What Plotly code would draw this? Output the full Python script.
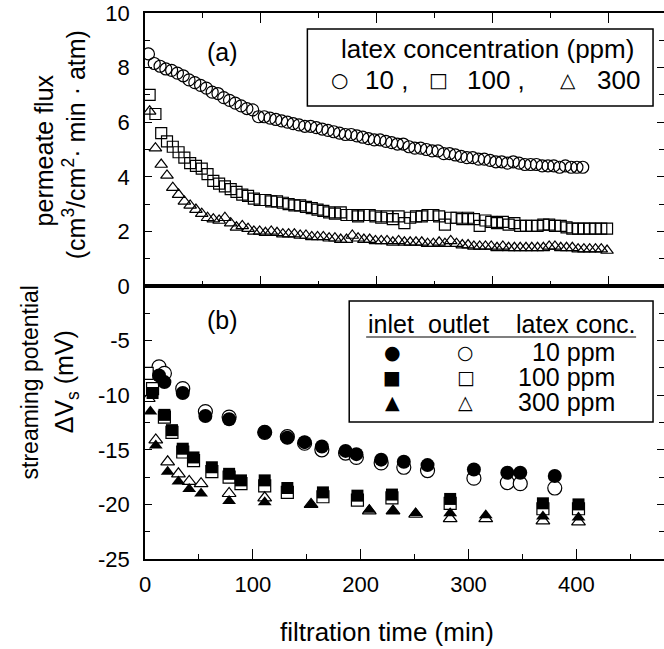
import plotly.graph_objects as go

# ---------------- data: panel (a) permeate flux ----------------
t_a_10 = [3, 8, 13, 18, 23, 28, 33, 38, 43, 48, 53, 58, 63, 68, 73, 78, 83, 88, 93, 98,
          103, 108, 113, 118, 123, 128, 133, 138, 143, 148, 153, 158, 163, 168, 173, 178,
          183, 188, 193, 198, 203, 208, 213, 218, 223, 228, 233, 238, 243, 248, 253, 258,
          263, 268, 273, 278, 283, 288, 293, 298, 303, 308, 313, 318, 323, 328, 333, 338,
          343, 348, 353, 358, 363, 368, 373, 378]
flux_10 = [8.5, 8.15, 8.05, 7.95, 7.9, 7.8, 7.7, 7.55, 7.45, 7.35, 7.25, 7.1, 7.05, 6.9, 6.8,
           6.7, 6.6, 6.5, 6.45, 6.2, 6.2, 6.15, 6.1, 6.05, 6.0, 5.95, 5.9, 5.85, 5.85, 5.8,
           5.75, 5.7, 5.65, 5.6, 5.55, 5.55, 5.5, 5.45, 5.4, 5.35, 5.35, 5.3, 5.25, 5.2, 5.2,
           5.1, 5.05, 5.05, 5.0, 4.95, 4.95, 4.85, 4.85, 4.8, 4.75, 4.7, 4.7, 4.65, 4.65, 4.6,
           4.55, 4.55, 4.5, 4.55, 4.5, 4.45, 4.45, 4.45, 4.4, 4.4, 4.4, 4.35, 4.4, 4.35, 4.35,
           4.35]

t_a_100 = [4, 9, 14, 19, 24, 29, 34, 39, 44, 49, 54, 59, 64, 69, 74, 79, 84, 89, 94, 99,
           104, 109, 114, 119, 124, 129, 134, 139, 144, 149, 154, 159, 164, 169, 174, 179,
           184, 189, 194, 199, 204, 209, 214, 219, 224, 229, 234, 239, 244, 249, 254, 259,
           264, 269, 274, 279, 284, 289, 294, 299, 304, 309, 314, 319, 324, 329, 334, 339,
           344, 349, 354, 359, 364, 369, 374, 379, 384, 389, 394, 399]
flux_100 = [7.0, 6.3, 5.6, 5.3, 5.1, 4.9, 4.7, 4.5, 4.4, 4.3, 4.1, 3.85, 3.75, 3.65, 3.55,
            3.45, 3.35, 3.3, 3.2, 3.15, 3.15, 3.1, 3.1, 3.05, 3.0, 2.95, 2.95, 2.9, 2.85, 2.8,
            2.75, 2.7, 2.65, 2.7, 2.6, 2.6, 2.55, 2.6, 2.6, 2.55, 2.5, 2.55, 2.45, 2.55, 2.3,
            2.5, 2.55, 2.55, 2.6, 2.6, 2.55, 2.25, 2.5, 2.5, 2.45, 2.5, 2.45, 2.2, 2.4, 2.35,
            2.3, 2.35, 2.25, 2.3, 2.2, 2.2, 2.2, 2.2, 2.25, 2.25, 2.2, 2.2, 2.15, 2.1, 2.1,
            2.1, 2.1, 2.1, 2.1, 2.1]

t_a_300 = t_a_100
flux_300 = [6.4, 5.05, 4.45, 4.05, 3.6, 3.35, 3.1, 2.95, 2.8, 2.65, 2.5, 2.45, 2.4, 2.5, 2.3,
            2.15, 2.2, 2.1, 2.0, 2.0, 1.95, 2.0, 1.95, 1.9, 1.9, 1.9, 1.85, 1.85, 1.8, 1.8,
            1.8, 1.75, 1.75, 1.7, 1.7, 1.85, 1.75, 1.7, 1.7, 1.65, 1.65, 1.65, 1.6, 1.65, 1.6,
            1.6, 1.6, 1.6, 1.55, 1.55, 1.6, 1.55, 1.65, 1.55, 1.5, 1.5, 1.45, 1.45, 1.45, 1.45,
            1.4, 1.45, 1.4, 1.4, 1.4, 1.4, 1.4, 1.4, 1.4, 1.45, 1.45, 1.4, 1.4, 1.4, 1.35,
            1.35, 1.35, 1.35, 1.35, 1.3]

# ---------------- data: panel (b) streaming potential ----------------
t_b_10 = [13, 18, 35, 56, 78, 111, 132, 148, 164, 186, 196, 219, 240, 262, 305, 336, 348, 380]
in_10 = [-8.2, -8.8, -9.8, -11.9, -12.2, -13.4, -13.9, -14.3, -14.7, -15.1, -15.4, -15.9,
         -16.1, -16.4, -16.8, -17.1, -17.1, -17.4]
out_10 = [-7.4, -8.0, -9.4, -11.5, -12.0, -13.4, -13.8, -14.4, -15.0, -15.3, -15.7, -16.2,
          -16.6, -16.9, -17.6, -18.0, -18.1, -18.5]

t_b_100_in = [7, 18, 25, 35, 45, 62, 78, 89, 111, 132, 165, 197, 229, 283, 369, 402]
in_100 = [-9.8, -11.8, -13.2, -14.9, -15.7, -16.6, -17.2, -17.8, -17.8, -18.5, -18.9, -19.2,
          -19.1, -19.5, -19.9, -20.0]
t_b_100_out = [2, 7, 18, 25, 35, 45, 62, 78, 89, 111, 132, 165, 197, 229, 283, 369, 402]
out_100 = [-8.0, -9.4, -12.0, -13.4, -15.2, -16.0, -17.0, -17.5, -18.1, -18.3, -18.9, -19.3,
           -19.6, -19.4, -19.9, -20.4, -20.4]

t_b_300_in = [5, 10, 21, 31, 41, 52, 78, 111, 154, 208, 230, 251, 283, 316, 369, 402]
in_300 = [-11.5, -14.6, -17.0, -17.9, -18.6, -19.0, -19.7, -19.8, -20.0, -20.5, -20.6, -20.8,
          -20.8, -21.0, -21.1, -21.2]
t_b_300_out = [3, 10, 21, 31, 41, 52, 78, 111, 154, 208, 230, 251, 283, 316, 369, 402]
out_300 = [-10.3, -14.1, -16.1, -17.2, -17.9, -18.1, -19.0, -19.4, -20.0, -20.6, -20.6, -20.9,
           -21.3, -21.3, -21.5, -21.6]

x_ticks = [0, 100, 200, 300, 400]
flux_ticks = [0, 2, 4, 6, 8, 10]
sp_ticks = [-25, -20, -15, -10, -5]
sp_ticktext = ["-25", "-20", "-15", "-10", "-5"]

# ---------------- figure ----------------
# the original figure is cropped at its right edge: the plot frame ends just past the page
W, H = 666, 649
ML, MR, MT, MB = 145, 0, 13, 90
PW, PH = W - ML - MR, H - MT - MB
FONT = "Liberation Sans, Arial, Helvetica, sans-serif"
SYM = "DejaVu Sans, sans-serif"
X_TOP_MAX = PW / 1.1625    # top panel: 1.1625 px per minute
X_BOT_MAX = PW / 1.0825    # bottom panel: 1.0825 px per minute


def px(x):
    return (x - ML) / PW


def py(y):
    return (H - MB - y) / PH


fig = go.Figure()

open_line = dict(color="black", width=1.2)
fig.add_trace(go.Scatter(x=t_a_10, y=flux_10, mode="markers", xaxis="x", yaxis="y",
                         marker=dict(symbol="circle-open", size=12, color="black", line=open_line)))
fig.add_trace(go.Scatter(x=t_a_100, y=flux_100, mode="markers", xaxis="x", yaxis="y",
                         marker=dict(symbol="square-open", size=11, color="black", line=open_line)))
fig.add_trace(go.Scatter(x=t_a_300, y=flux_300, mode="markers", xaxis="x", yaxis="y",
                         marker=dict(symbol="triangle-up-open", size=11, color="black", line=open_line)))

# outlet (open, drawn first) then inlet (filled)
fig.add_trace(go.Scatter(x=t_b_10, y=out_10, mode="markers", xaxis="x2", yaxis="y2",
                         marker=dict(symbol="circle", size=14, color="white", line=open_line)))
fig.add_trace(go.Scatter(x=t_b_100_out, y=out_100, mode="markers", xaxis="x2", yaxis="y2",
                         marker=dict(symbol="square", size=12, color="white", line=open_line)))
fig.add_trace(go.Scatter(x=t_b_300_out, y=out_300, mode="markers", xaxis="x2", yaxis="y2",
                         marker=dict(symbol="triangle-up", size=12, color="white", line=open_line)))
fig.add_trace(go.Scatter(x=t_b_10, y=in_10, mode="markers", xaxis="x2", yaxis="y2",
                         marker=dict(symbol="circle", size=14, color="black", line=dict(width=0))))
fig.add_trace(go.Scatter(x=t_b_100_in, y=in_100, mode="markers", xaxis="x2", yaxis="y2",
                         marker=dict(symbol="square", size=12, color="black", line=dict(width=0))))
fig.add_trace(go.Scatter(x=t_b_300_in, y=in_300, mode="markers", xaxis="x2", yaxis="y2",
                         marker=dict(symbol="triangle-up", size=12, color="black", line=dict(width=0))))

axline = dict(showline=True, linecolor="black", linewidth=1.5, showgrid=False, zeroline=False,
              tickcolor="black", tickwidth=1.2, fixedrange=True)
tickfont = dict(family=FONT, size=22, color="black")

fig.update_layout(
    width=W, height=H, margin=dict(l=ML, r=MR, t=MT, b=MB),
    paper_bgcolor="white", plot_bgcolor="white", showlegend=False,
    font=dict(family=FONT, color="black"),
    xaxis=dict(domain=[0, 1], anchor="y", range=[0, X_TOP_MAX], tickmode="array", tickvals=x_ticks,
               ticks="inside", ticklen=10, mirror="ticks", showticklabels=False,
               minor=dict(dtick=50, tick0=0, ticks="inside", ticklen=5, tickcolor="black"),
               **axline),
    xaxis3=dict(overlaying="x", anchor="y", side="bottom", range=[0, X_TOP_MAX], tickmode="array",
                tickvals=x_ticks, ticks="outside", ticklen=10, showticklabels=False,
                showline=False, showgrid=False, zeroline=False, tickcolor="black", tickwidth=1.2,
                minor=dict(dtick=50, tick0=0, ticks="outside", ticklen=5, tickcolor="black"),
                fixedrange=True),
    yaxis=dict(domain=[0.5, 1], anchor="x", range=[0, 10], tickmode="array", tickvals=flux_ticks,
               ticks="inside", ticklen=7, mirror="ticks", tickfont=tickfont,
               ticklabelstandoff=9,
               minor=dict(dtick=1, tick0=0, ticks="inside", ticklen=5, tickcolor="black"),
               **axline),
    xaxis2=dict(domain=[0, 1], anchor="y2", range=[0, X_BOT_MAX], tickmode="array", tickvals=x_ticks,
                ticks="inside", ticklen=10, mirror=True, tickfont=tickfont,
                ticklabelstandoff=5,
                minor=dict(dtick=50, tick0=0, ticks="inside", ticklen=5, tickcolor="black"),
                **axline),
    yaxis2=dict(domain=[0, 0.5], anchor="x2", range=[-25, 0], tickmode="array", tickvals=sp_ticks,
                ticktext=sp_ticktext,
                ticks="inside", ticklen=7, mirror="ticks", tickfont=tickfont,
                ticklabelstandoff=9,
                minor=dict(dtick=2.5, tick0=0, ticks="inside", ticklen=5, tickcolor="black"),
                **axline),
)

ann = []


def text(x, y, s, size=24, xanchor="center", angle=0, family=FONT):
    ann.append(dict(x=px(x), y=py(y), xref="paper", yref="paper", text=s, showarrow=False,
                    xanchor=xanchor, yanchor="middle", textangle=angle,
                    font=dict(family=family, size=size, color="black")))


# axis titles
text(44, 150, "permeate flux", size=25, angle=-90)
text(74, 145, "(cm<sup>3</sup>/cm<sup>2</sup>· min · atm)", size=25, angle=-90)
text(30, 382, "streaming potential", size=23, angle=-90)
text(66, 382, "ΔV<sub>s</sub> (mV)", size=25, angle=-90)
text(388, 632, "filtration time (min)", size=26)

# panel labels
text(223, 52, "(a)", size=25)
text(223, 320, "(b)", size=25)

# legend (a)
text(340, 49, "latex concentration (ppm)", size=26, xanchor="left")
text(340, 80, "○", size=20, family=SYM)
text(364, 80, "10 ,", size=26, xanchor="left")
text(440, 80, "□", size=20, family=SYM)
text(466, 80, "100 ,", size=26, xanchor="left")
text(570, 80, "△", size=20, family=SYM)
text(597, 80, "300", size=26, xanchor="left")

# legend (b)
text(392, 324, "inlet", size=25)
text(460, 324, "outlet", size=25)
text(578, 324, "latex conc.", size=25)
rows = [(352, "●", "○", "10 ppm"), (377, "■", "□", "100 ppm"), (402, "▲", "△", "300 ppm")]
for yy, fsym, osym, lab in rows:
    text(393, yy, fsym, size=19, family=SYM)
    text(467, yy, osym, size=19, family=SYM)
    text(619, yy, lab, size=25, xanchor="right")

fig.update_layout(annotations=ann)

shapes = [
    dict(type="rect", xref="paper", yref="paper", x0=px(308), x1=px(655), y0=py(106), y1=py(29),
         line=dict(color="black", width=1.5)),
    dict(type="rect", xref="paper", yref="paper", x0=px(350), x1=px(655), y0=py(422), y1=py(301),
         line=dict(color="black", width=1.5)),
    dict(type="line", xref="paper", yref="paper", x0=px(367), x1=px(638), y0=py(337), y1=py(337),
         line=dict(color="black", width=1.2)),
]
fig.update_layout(shapes=shapes)

fig.write_html("out.html", config={"displayModeBar": False},
               post_script="document.body.style.margin='0px';document.body.style.overflow='hidden';")
